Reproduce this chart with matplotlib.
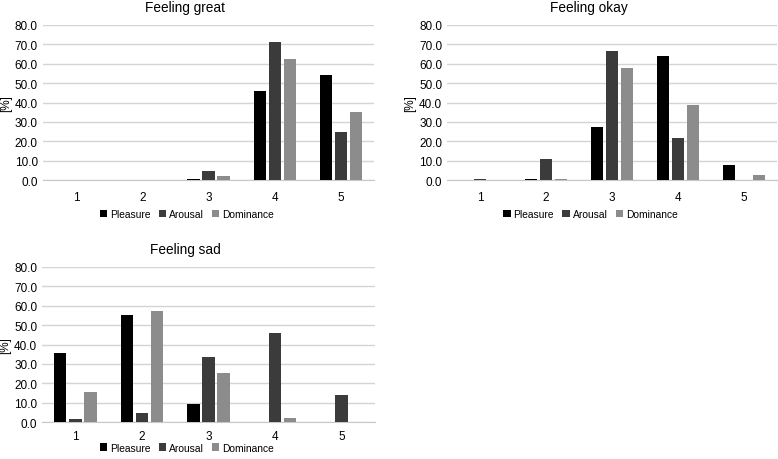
import numpy as np
import matplotlib
matplotlib.use("Agg")
from matplotlib import pyplot as plt

plt.rcParams['font.family'] = ['Liberation Sans', 'DejaVu Sans']

levels = [1, 2, 3, 4, 5]
series = ["Pleasure", "Arousal", "Dominance"]
colors = ['#000000', '#3b3b3b', '#8c8c8c']

# feeling great
great_pleasure = [0, 0, 0.5, 45.8, 54.2]
great_arousal = [0, 0, 4.4, 71.0, 24.6]
great_dominance = [0, 0, 2.3, 62.5, 35.0]

# feeling okay
okay_pleasure = [0, 0.5, 27.5, 64.2, 8.0]
okay_arousal = [0.3, 10.9, 66.8, 21.8, 0]
okay_dominance = [0, 0.5, 57.6, 38.8, 2.6]

# feeling sad
sad_pleasure = [35.6, 55.2, 9.4, 0, 0]
sad_arousal = [1.4, 4.8, 33.7, 45.8, 14.1]
sad_dominance = [15.4, 57.4, 25.1, 2.2, 0]

fig = plt.figure(figsize=(7.78, 4.6), dpi=100)

panels = [
    ("Feeling great", [great_pleasure, great_arousal, great_dominance], [0.055, 0.6065, 0.426, 0.337], -0.22, 8),
    ("Feeling okay", [okay_pleasure, okay_arousal, okay_dominance], [0.5746, 0.6065, 0.424, 0.337], -0.22, 8),
    ("Feeling sad", [sad_pleasure, sad_arousal, sad_dominance], [0.054, 0.0804, 0.428, 0.337], -0.165, 6),
]

x = np.array(levels)
w = 0.187
step = 0.227

for title, data, pos, legy, xpad in panels:
    ax = fig.add_axes(pos)
    for i, vals in enumerate(data):
        ax.bar(x + (i - 1) * step, vals, width=w, color=colors[i], label=series[i], zorder=3)
    ax.set_xlim(0.5, 5.5)
    ax.set_ylim(0, 80)
    ax.set_yticks(np.arange(0, 81, 10))
    ax.set_yticklabels(["%.1f" % v for v in np.arange(0, 81, 10)])
    ax.set_xticks(x)
    ax.grid(axis='y', color='#d4d4d4', linewidth=1, zorder=0)
    for s in ['top', 'right', 'left']:
        ax.spines[s].set_visible(False)
    ax.spines['bottom'].set_color('#c8c8c8')
    ax.tick_params(length=0, labelsize=8.5, colors='#000000')
    ax.tick_params(axis='x', pad=xpad)
    ax.set_ylabel("[%]", fontsize=8.5, labelpad=2)
    ax.set_title(title, fontsize=9.8, pad=10, x=0.43)
    ax.legend(loc='center', bbox_to_anchor=(0.435, legy), ncol=3, frameon=False,
              fontsize=7.4, handlelength=0.7, handleheight=0.7, handletextpad=0.3,
              columnspacing=0.8)

plt.savefig("out.png", dpi=100)
